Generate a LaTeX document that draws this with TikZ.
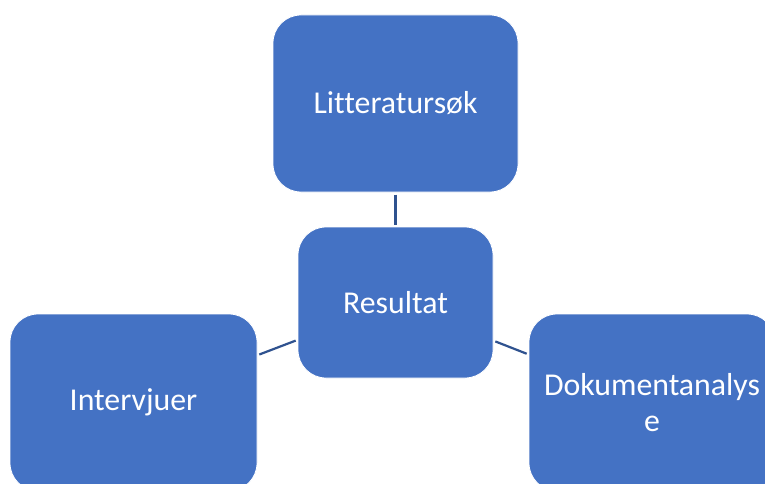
\documentclass[tikz,border=0pt]{standalone}
\usepackage{fontspec}
\setmainfont[Ligatures={NoCommon}]{Carlito}
\definecolor{boxblue}{HTML}{4472C4}
\definecolor{lineblue}{HTML}{2F528F}
\begin{document}
\begin{tikzpicture}[x=1pt,y=-1pt,
  blk/.style={rectangle, rounded corners=28pt, fill=boxblue, draw=white, line width=0.8pt,
    text=white, font=\fontsize{31.8}{36}\selectfont, align=center, inner sep=0pt, outer sep=0pt},
  conn/.style={draw=lineblue, line width=2.2pt, shorten <=2.5pt, shorten >=2.5pt}]
\useasboundingbox (0,0) rectangle (765,484);
\clip (0,0) rectangle (765,484);
\fill[white] (0,0) rectangle (765,484);
\node[blk, minimum width=245pt, minimum height=177pt] (top) at (395.5,103.5) {Litteratursøk};
\node[blk, minimum width=195pt, minimum height=151pt] (res) at (395.5,302.5) {Resultat};
\node[blk, minimum width=247pt, minimum height=177pt] (left) at (133.5,402.5) {Intervjuer};
\node[blk, minimum width=246pt, minimum height=177pt] (right) at (652,402.5) {Dokumentanalys\\e};
\draw[conn] (top) -- (res);
\draw[conn] (res) -- (left);
\draw[conn] (res) -- (right);
\end{tikzpicture}
\end{document}
